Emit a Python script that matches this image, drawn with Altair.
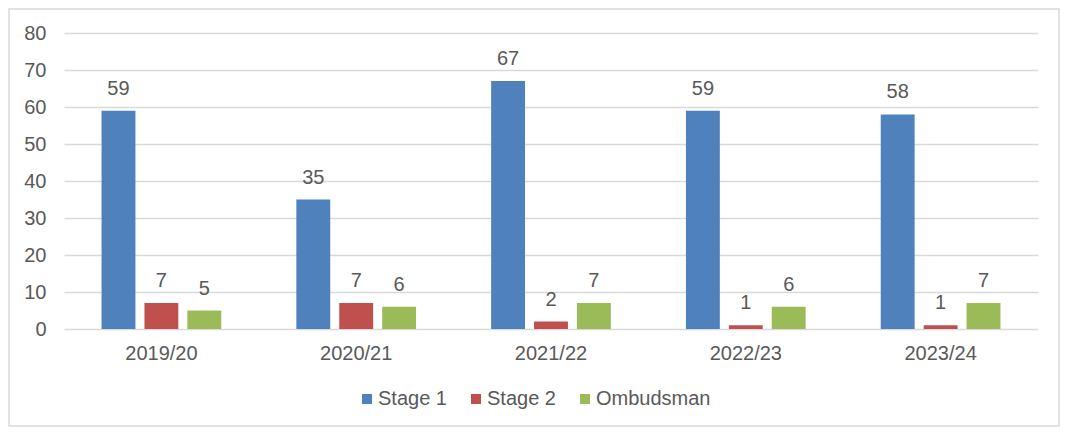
import altair as alt
import pandas as pd

years = ["2019/20", "2020/21", "2021/22", "2022/23", "2023/24"]
series = ["Stage 1", "Stage 2", "Ombudsman"]
stage1 = [59, 35, 67, 59, 58]
stage2 = [7, 7, 2, 1, 1]
ombudsman = [5, 6, 7, 6, 7]
colors = ["#4f81bd", "#c0504d", "#9bbb59"]
y_ticks = [0, 10, 20, 30, 40, 50, 60, 70, 80]

rows = []
for s, vals in zip(series, [stage1, stage2, ombudsman]):
    for yr, v in zip(years, vals):
        rows.append({"year": yr, "series": s, "value": v})
df = pd.DataFrame(rows)

FONT = "Liberation Sans"
GRAY = "#595959"

x_enc = alt.X("year:N", sort=years, title=None,
              scale=alt.Scale(paddingInner=0, paddingOuter=0),
              axis=alt.Axis(labelAngle=0, ticks=False, domain=False,
                            labelFontSize=20, labelColor=GRAY, labelFont=FONT,
                            labelPadding=14, grid=False))
xoff = alt.XOffset("series:N", sort=series,
                   scale=alt.Scale(paddingInner=0.21, paddingOuter=0.875))
y_enc = alt.Y("value:Q", title=None,
              scale=alt.Scale(domain=[0, 80], nice=False),
              axis=alt.Axis(values=y_ticks, ticks=False, domain=False,
                            labelFontSize=20, labelColor=GRAY, labelFont=FONT,
                            labelPadding=18, gridColor="#d9d9d9", gridWidth=1.5))

bars = alt.Chart(df).mark_bar().encode(
    x=x_enc, xOffset=xoff, y=y_enc,
    color=alt.Color("series:N", sort=series,
                    scale=alt.Scale(domain=series, range=colors),
                    legend=alt.Legend(title=None, orient="none", direction="horizontal",
                                      legendX=293, legendY=356,
                                      symbolType="square", symbolSize=100,
                                      symbolStrokeWidth=0, symbolOffset=0,
                                      labelFontSize=20, labelColor=GRAY, labelFont=FONT,
                                      labelOffset=1, columnPadding=19)),
)

labels = alt.Chart(df).mark_text(baseline="alphabetic", dy=-16, fontSize=20,
                                 font=FONT, color=GRAY).encode(
    x=x_enc, xOffset=xoff, y=y_enc, text="value:Q",
)

border = alt.Chart(pd.DataFrame({"a": [0]})).mark_rect(
    fill=None, stroke="#d9d9d9", strokeWidth=1.5, clip=False
).encode(x=alt.value(-55), x2=alt.value(995), y=alt.value(-24), y2=alt.value(393))

chart = alt.layer(bars, labels, border).properties(
    width=974, height=296,
    autosize=alt.AutoSizeParams(type="none"),
    padding={"left": 56, "top": 25, "right": 22, "bottom": 98},
).configure(font=FONT).configure_view(stroke="transparent", strokeWidth=0)

chart.save("out.html", embed_options={"renderer": "svg", "actions": False})
